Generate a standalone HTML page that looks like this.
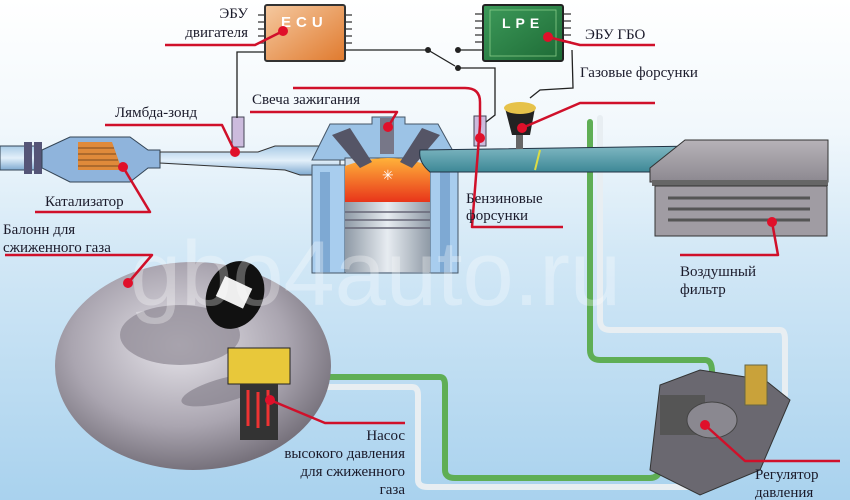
<!DOCTYPE html>
<html><head><meta charset="utf-8"><style>
html,body{margin:0;padding:0;width:850px;height:500px;overflow:hidden}
svg{display:block}
text{font-family:"Liberation Serif","DejaVu Serif",serif;font-size:15px;fill:#1a1a2a}
</style></head><body>
<svg width="850" height="500" viewBox="0 0 850 500" xmlns="http://www.w3.org/2000/svg">
<defs>
<linearGradient id="bg" x1="0" y1="0" x2="0" y2="1">
<stop offset="0" stop-color="#ffffff"/><stop offset="0.25" stop-color="#f2f8fc"/><stop offset="0.5" stop-color="#d3e8f6"/><stop offset="1" stop-color="#a9d2ee"/></linearGradient>
<linearGradient id="ecu" x1="0" y1="0" x2="1" y2="1"><stop offset="0" stop-color="#f5c9a0"/><stop offset="1" stop-color="#e07a2e"/></linearGradient>
<linearGradient id="lpe" x1="0" y1="0" x2="1" y2="1"><stop offset="0" stop-color="#3d9a5a"/><stop offset="1" stop-color="#1d6a35"/></linearGradient>
<radialGradient id="tank" cx="0.45" cy="0.4" r="0.65"><stop offset="0" stop-color="#e6e4ea"/><stop offset="0.6" stop-color="#aaa5b0"/><stop offset="1" stop-color="#6b6670"/></radialGradient>
<linearGradient id="pipe" x1="0" y1="0" x2="0" y2="1"><stop offset="0" stop-color="#a9cbe6"/><stop offset="0.5" stop-color="#e3f0fa"/><stop offset="1" stop-color="#7faad0"/></linearGradient>
<linearGradient id="intake" x1="0" y1="0" x2="0" y2="1"><stop offset="0" stop-color="#7fb7c2"/><stop offset="1" stop-color="#3d8896"/></linearGradient>
<linearGradient id="fire" x1="0" y1="0" x2="0" y2="1"><stop offset="0" stop-color="#ffb23a"/><stop offset="1" stop-color="#e8351a"/></linearGradient>
<linearGradient id="pist" x1="0" y1="0" x2="1" y2="0"><stop offset="0" stop-color="#8f9aa6"/><stop offset="0.5" stop-color="#e7ecf1"/><stop offset="1" stop-color="#8f9aa6"/></linearGradient>
<linearGradient id="filt" x1="0" y1="0" x2="0" y2="1"><stop offset="0" stop-color="#b7b3b8"/><stop offset="1" stop-color="#8c8890"/></linearGradient>
</defs>
<rect width="850" height="500" fill="url(#bg)"/>

<g fill="none" stroke-linecap="round" stroke-linejoin="round">
<path d="M590 122 L590 350 Q590 360 600 360 L705 360 Q712 360 712 372" stroke="#5fae55" stroke-width="6"/>
<path d="M600 118 L600 320 Q600 330 610 330 L780 330 Q785 330 785 340 L785 395" stroke="#e8eef2" stroke-width="6"/>
<path d="M262 377 L440 377 Q445 377 445 385 L445 470 Q445 478 455 478 L650 478 Q658 478 660 470" stroke="#5fae55" stroke-width="6"/>
<path d="M262 387 L412 387 Q418 387 418 395 L418 480 Q418 487 428 487 L690 487" stroke="#e8eef2" stroke-width="6"/>
</g>

<rect x="0" y="146" width="40" height="24" fill="url(#pipe)" stroke="#345" stroke-width="1"/>
<rect x="24" y="142" width="8" height="32" fill="#557"/>
<rect x="34" y="142" width="8" height="32" fill="#557"/>
<polygon points="42,150 70,137 130,137 148,150 160,150 160,168 148,168 130,182 70,182 42,168" fill="#8fb4dc" stroke="#345"/>
<polygon points="78,142 112,142 122,170 78,170" fill="#e08a3a"/>
<g stroke="#7a4a20" stroke-width="1"><line x1="78" y1="148" x2="114" y2="148"/><line x1="78" y1="154" x2="116" y2="154"/><line x1="78" y1="160" x2="118" y2="160"/><line x1="78" y1="166" x2="120" y2="166"/></g>
<path d="M160 152 L258 152 L275 146 L340 146 L340 175 L300 175 L285 170 L160 163 Z" fill="url(#pipe)" stroke="#333"/>

<polygon points="312,160 330,124 372,124 372,117 405,117 405,124 438,124 458,160" fill="#9cc3e6" stroke="#456"/>
<rect x="312" y="165" width="146" height="108" fill="#a8cdee" stroke="#456"/>
<rect x="320" y="172" width="10" height="100" fill="#7ea9d3"/>
<rect x="440" y="172" width="10" height="100" fill="#7ea9d3"/>
<rect x="345" y="158" width="85" height="115" fill="#cbd8e5" stroke="#456"/>
<path d="M345 166 Q388 150 430 166 L430 202 L345 202 Z" fill="url(#fire)"/>
<rect x="345" y="202" width="85" height="70" fill="url(#pist)"/>
<g stroke="#667" stroke-width="1.5"><line x1="345" y1="212" x2="430" y2="212"/><line x1="345" y1="220" x2="430" y2="220"/><line x1="345" y1="228" x2="430" y2="228"/></g>
<polygon points="332,135 350,128 372,162 360,168" fill="#556"/>
<polygon points="440,135 422,128 400,162 412,168" fill="#556"/>
<rect x="380" y="118" width="14" height="36" fill="#778"/>
<text x="382" y="180" style="fill:#fff;font-size:14px">✳</text>

<path d="M420 150 L700 146 L700 172 L430 172 Q418 162 420 150 Z" fill="url(#intake)" stroke="#234"/>
<line x1="540" y1="150" x2="535" y2="170" stroke="#dd4" stroke-width="2"/>
<polygon points="685,140 828,140 828,182 650,182 650,168" fill="url(#filt)" stroke="#333"/>
<rect x="652" y="180" width="176" height="6" fill="#666"/>
<rect x="655" y="186" width="172" height="50" fill="#a09ca3" stroke="#333"/>
<g fill="none" stroke="#555" stroke-width="3"><line x1="668" y1="198" x2="810" y2="198"/><line x1="668" y1="209" x2="810" y2="209"/><line x1="668" y1="220" x2="810" y2="220"/></g>

<rect x="232" y="117" width="12" height="30" fill="#cbd" stroke="#445"/>
<rect x="474" y="116" width="12" height="30" fill="#cbd" stroke="#445"/>
<path d="M505 108 Q520 100 535 108 L530 135 L512 135 Z" fill="#222"/>
<ellipse cx="520" cy="108" rx="16" ry="6" fill="#e6c24a"/>
<rect x="516" y="135" width="7" height="14" fill="#666"/>

<g fill="none" stroke="#222" stroke-width="1.3">
<path d="M265 52 L237 52 L237 118"/>
<path d="M345 50 L428 50"/><path d="M428 50 L455 66"/><path d="M458 50 L483 50"/>
<path d="M458 68 L495 68 L495 115 L486 122"/>
<path d="M572 50 L573 88 L540 90 L530 98"/>
</g>
<g fill="#222"><circle cx="428" cy="50" r="3"/><circle cx="458" cy="50" r="3"/><circle cx="458" cy="68" r="3"/></g>

<g stroke="#555" stroke-width="1.5"><path d="M258 15h8M258 22h8M258 29h8M258 36h8M258 43h8M344 15h8M344 22h8M344 29h8M344 36h8M344 43h8"/></g>
<rect x="265" y="5" width="80" height="56" rx="2" fill="url(#ecu)" stroke="#333" stroke-width="2"/>
<text x="281" y="27" style="fill:#fff;font-family:'Liberation Sans',sans-serif;font-weight:bold;font-size:15px;letter-spacing:5px">ECU</text>
<g stroke="#555" stroke-width="1.5"><path d="M475 14h8M475 21h8M475 28h8M475 35h8M475 42h8M563 14h8M563 21h8M563 28h8M563 35h8M563 42h8"/></g>
<rect x="483" y="5" width="80" height="56" rx="2" fill="url(#lpe)" stroke="#222" stroke-width="2"/>
<rect x="490" y="10" width="66" height="46" fill="none" stroke="#8c8" stroke-width="0.8"/>
<text x="502" y="28" style="fill:#fff;font-family:'Liberation Sans',sans-serif;font-weight:bold;font-size:14px;letter-spacing:5px">LPE</text>

<!-- tank -->
<ellipse cx="193" cy="366" rx="138" ry="104" fill="url(#tank)"/>
<ellipse cx="180" cy="335" rx="60" ry="30" fill="#8d8893" opacity=".7"/>
<ellipse cx="225" cy="390" rx="45" ry="12" fill="#7d7883" opacity=".6" transform="rotate(-15 225 390)"/>
<ellipse cx="235" cy="295" rx="28" ry="35" fill="#111" transform="rotate(25 235 295)"/>
<rect x="218" y="282" width="30" height="22" fill="#eee" transform="rotate(25 235 295)"/>
<rect x="228" y="348" width="62" height="36" fill="#e8c83a" stroke="#222"/>
<rect x="240" y="384" width="38" height="56" fill="#333"/>
<path d="M248 390 v36 M258 392 v36 M268 390 v36" stroke="#e33" stroke-width="3"/>

<polygon points="660,385 700,370 765,380 790,400 760,470 700,495 650,470" fill="#6a6870" stroke="#333"/>
<rect x="660" y="395" width="45" height="40" fill="#555"/>
<ellipse cx="712" cy="420" rx="25" ry="18" fill="#8a8890" stroke="#444"/>
<rect x="745" y="365" width="22" height="40" fill="#c9a23a" stroke="#664"/>

<text x="130" y="305" style="font-family:'Liberation Sans',sans-serif;font-size:92px;fill:#fff;opacity:.3">gbo4auto.ru</text>

<g fill="none" stroke="#d0102a" stroke-width="2.5" stroke-linejoin="round">
<path d="M165 45 L255 45 L283 31"/>
<path d="M655 45 L580 45 L548 37"/>
<path d="M655 103 L580 103 L522 128"/>
<path d="M293 88 L465 88 Q480 88 480 102 L480 125"/>
<path d="M250 112 L397 112 L388 127"/>
<path d="M105 125 L222 125 L235 152"/>
<path d="M35 212 L150 212 L123 167"/>
<path d="M5 255 L152 255 L128 283"/>
<path d="M480 125 L472 227 L563 227"/>
<path d="M680 255 L778 255 L772 222"/>
<path d="M270 400 L325 423 L405 423"/>
<path d="M705 425 L745 461 L840 461"/>
</g>
<g fill="#e0102a"><circle cx="283" cy="31" r="5"/><circle cx="548" cy="37" r="5"/><circle cx="522" cy="128" r="5"/><circle cx="388" cy="127" r="5"/><circle cx="235" cy="152" r="5"/><circle cx="123" cy="167" r="5"/><circle cx="128" cy="283" r="5"/><circle cx="480" cy="138" r="5"/><circle cx="772" cy="222" r="5"/><circle cx="270" cy="400" r="5"/><circle cx="705" cy="425" r="5"/></g>

<text x="248" y="18" text-anchor="end">ЭБУ</text>
<text x="248" y="37" text-anchor="end">двигателя</text>
<text x="585" y="39">ЭБУ ГБО</text>
<text x="580" y="77">Газовые форсунки</text>
<text x="252" y="104">Свеча зажигания</text>
<text x="115" y="117">Лямбда-зонд</text>
<text x="45" y="206">Катализатор</text>
<text x="3" y="234">Балонн для</text>
<text x="3" y="252">сжиженного газа</text>
<text x="466" y="203">Бензиновые</text>
<text x="466" y="220">форсунки</text>
<text x="680" y="276">Воздушный</text>
<text x="680" y="294">фильтр</text>
<text x="405" y="440" text-anchor="end">Насос</text>
<text x="405" y="458" text-anchor="end">высокого давления</text>
<text x="405" y="476" text-anchor="end">для сжиженного</text>
<text x="405" y="494" text-anchor="end">газа</text>
<text x="755" y="479">Регулятор</text>
<text x="755" y="497">давления</text>
</svg>
</body></html>
